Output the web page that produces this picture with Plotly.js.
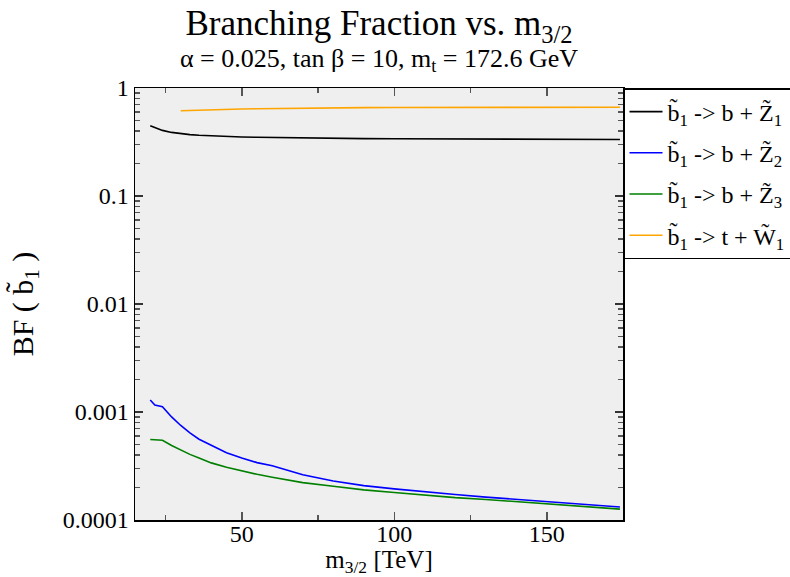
<!DOCTYPE html>
<html>
<head>
<meta charset="utf-8">
<script src="https://cdn.plot.ly/plotly-3.0.1.min.js"></script>
<style>html,body{margin:0;padding:0;background:#fff;}#chart{width:790px;height:577px;}</style>
</head>
<body>
<div id="chart"></div>
<script>
// m_3/2 values (TeV)
const xMain = [20, 21.5, 24, 27, 30, 33, 36, 40, 45, 50, 55, 60, 70, 80, 90, 100, 110, 120, 130, 140, 150, 160, 174];
const xOrange = [30, 33, 36, 40, 45, 50, 55, 60, 70, 80, 90, 100, 110, 120, 130, 140, 150, 160, 174];

// Branching fractions
const bfZ1 = [0.447, 0.43, 0.405, 0.388, 0.377, 0.37, 0.365, 0.36, 0.355, 0.352, 0.35, 0.348, 0.345, 0.342, 0.34, 0.339, 0.338, 0.337, 0.336, 0.335, 0.335, 0.334, 0.334];
const bfZ2 = [0.00129, 0.00116, 0.00112, 0.00090, 0.00075, 0.00064, 0.00056, 0.00049, 0.00042, 0.000375, 0.00034, 0.000318, 0.000262, 0.00023, 0.000208, 0.000194, 0.000182, 0.000172, 0.000163, 0.000155, 0.000147, 0.00014, 0.000132];
const bfZ3 = [0.000557, 0.000555, 0.000548, 0.00049, 0.000445, 0.000405, 0.000375, 0.000338, 0.000308, 0.000285, 0.000265, 0.000249, 0.000222, 0.000205, 0.00019, 0.00018, 0.00017, 0.000161, 0.000155, 0.000148, 0.000141, 0.000135, 0.000126];
const bfW1 = [0.615, 0.62, 0.625, 0.63, 0.636, 0.64, 0.643, 0.646, 0.65, 0.654, 0.658, 0.66, 0.661, 0.662, 0.663, 0.663, 0.664, 0.664, 0.664];

const seriesNames = [
  "b\u0303<sub>1</sub> -> b + Z\u0303<sub>1</sub>",
  "b\u0303<sub>1</sub> -> b + Z\u0303<sub>2</sub>",
  "b\u0303<sub>1</sub> -> b + Z\u0303<sub>3</sub>",
  "b\u0303<sub>1</sub> -> t + W\u0303<sub>1</sub>"
];

const yTickVals = [0.0001, 0.001, 0.01, 0.1, 1];
const yTickText = ["0.0001", "0.001", "0.01", "0.1", "1"];
const yMinorVals = [];
for (let e = -4; e < 0; e++) for (let m = 2; m <= 9; m++) yMinorVals.push(m * Math.pow(10, e));

const font = "Liberation Serif, serif";
const lw = 1.6;

const traces = [
  {x: xMain, y: bfZ1, name: seriesNames[0], legendgroup: "a", mode: "lines", line: {color: "#000000", width: lw}},
  {x: xMain, y: bfZ2, name: seriesNames[1], legendgroup: "b", mode: "lines", line: {color: "#0000ff", width: lw}},
  {x: xMain, y: bfZ3, name: seriesNames[2], legendgroup: "c", mode: "lines", line: {color: "#008000", width: lw}},
  {x: xOrange, y: bfW1, name: seriesNames[3], legendgroup: "d", mode: "lines", line: {color: "#ffa500", width: lw}}
];

const layout = {
  width: 790, height: 577,
  margin: {l: 135, r: 167, t: 88, b: 57, autoexpand: false},
  paper_bgcolor: "#ffffff",
  plot_bgcolor: "#efefef",
  font: {family: font, color: "#000", size: 24},
  title: {
    text: "Branching Fraction vs. m<sub>3/2</sub>",
    font: {family: font, size: 35, color: "#000"},
    xref: "paper", x: 0.5, xanchor: "center",
    yref: "container", y: 0.981, yanchor: "top"
  },
  annotations: [{
    text: "\u03b1 = 0.025, tan \u03b2 = 10, m<sub>t</sub> = 172.6 GeV",
    xref: "paper", yref: "paper", x: 0.5, y: 1.0, xanchor: "center", yanchor: "bottom",
    yshift: 10, showarrow: false,
    font: {family: font, size: 26, color: "#000"}
  }],
  xaxis: {
    range: [15, 175],
    tickvals: [50, 100, 150],
    ticks: "inside", ticklen: 8, tickwidth: 1.5, tickcolor: "#555",
    ticklabelstandoff: -8,
    minor: {tickvals: [25, 75, 125, 175], ticks: "inside", ticklen: 5, tickwidth: 1.2, tickcolor: "#555", showgrid: false},
    mirror: "allticks", showline: true, linecolor: "#000", linewidth: 1.5,
    showgrid: false, zeroline: false,
    tickfont: {family: font, size: 24},
    title: {text: "m<sub>3/2</sub> [TeV]", font: {family: font, size: 25}, standoff: 0}
  },
  yaxis: {
    type: "log", range: [-4, 0],
    tickvals: yTickVals, ticktext: yTickText,
    ticks: "inside", ticklen: 8, tickwidth: 1.5, tickcolor: "#333",
    minor: {tickvals: yMinorVals, ticks: "inside", ticklen: 5, tickwidth: 1.2, tickcolor: "#555", showgrid: false},
    mirror: "allticks", showline: true, linecolor: "#000", linewidth: 1.5,
    showgrid: false, zeroline: false,
    tickfont: {family: font, size: 24},
    title: {text: "BF ( b\u0303<sub>1</sub> )", font: {family: font, size: 30}, standoff: 20}
  },
  showlegend: true,
  legend: {
    x: 1, y: 1, xanchor: "left", yanchor: "top",
    bgcolor: "#ffffff", bordercolor: "#000", borderwidth: 1.5,
    font: {family: font, size: 24, color: "#000"},
    tracegroupgap: 7, itemwidth: 33
  }
};

Plotly.newPlot("chart", traces, layout, {displayModeBar: false, staticPlot: true});
</script>
</body>
</html>
